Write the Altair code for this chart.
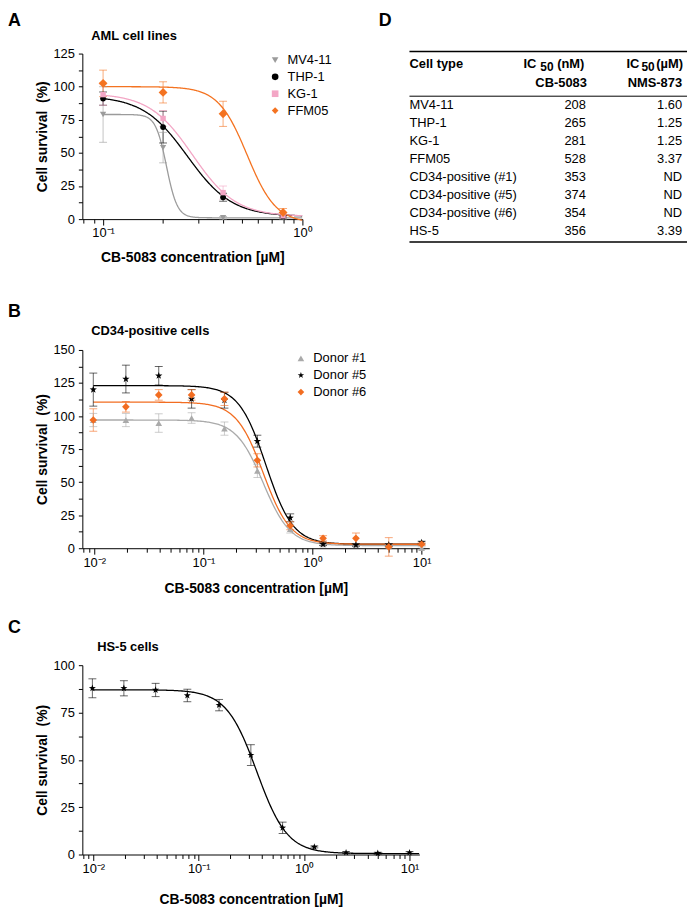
import altair as alt
import numpy as np
import pandas as pd

FONT = "Liberation Sans"
STAR = ("M0,-1L0.235,-0.324L0.951,-0.309L0.38,0.124L0.588,0.809L0,0.4"
        "L-0.588,0.809L-0.38,0.124L-0.951,-0.309L-0.235,-0.324Z")

# ---------------- Panel A : AML cell lines ----------------
a_conc = [0.1, 0.2, 0.4, 0.8]
a_names = ["MV4-11", "THP-1", "KG-1", "FFM05"]
a_mv411 = [79, 54, 1, 1]
a_thp1 = [91, 69.5, 16.5, 2]
a_kg1 = [94, 76, 20, 2.5]
a_ffm05 = [102.5, 95.7, 79.5, 5]
a_mv411_sd = [21, 11.5, 1, 1]
a_thp1_sd = [5, 12, 3, 1]
a_kg1_sd = [8, 6, 5, 1]
a_ffm05_sd = [10, 8, 9.5, 3]
# 4-parameter logistic fit: top, bottom, IC50 (uM), Hill slope
a_top = [79, 93, 95, 100]
a_bottom = [1, 2, 2, -3]
a_ic50 = [0.208, 0.265, 0.281, 0.528]
a_hill = [16, 3.9, 4, 6]
a_colors = ["#9b9b9b", "#000000", "#f3a6c5", "#f47321"]
a_shapes = ["triangle-down", "circle", "square", "diamond"]
a_sizes = [40, 34, 30, 80]

# ---------------- Panel B : CD34-positive cells ----------------
b_conc = [0.0098, 0.0195, 0.039, 0.078, 0.156, 0.3125, 0.625, 1.25, 2.5, 5, 10]
b_names = ["Donor #1", "Donor #5", "Donor #6"]
b_d1 = [97, 97, 94.7, 98.5, 90.5, 58.5, 14.5, 3, 2.5, 2, 0]
b_d5 = [120, 128, 130.5, 113, 112, 81, 23, 3, 2.5, 2.5, 4.3]
b_d6 = [97, 107, 116, 116, 113, 66.5, 17, 7.5, 7.5, 1, 3]
b_d1_sd = [5, 5, 7, 4, 5, 5, 3, 1, 1, 1, 1]
b_d5_sd = [12.5, 10.5, 7, 7, 6, 4.5, 3, 1, 1, 1, 1]
b_d6_sd = [8.5, 4, 4, 4, 5, 5, 3, 2, 4, 7, 1]
b_top = [97, 123, 110.5]
b_bottom = [2, 3, 3]
b_ic50 = [0.353, 0.374, 0.354]
b_hill = [3.5, 3.5, 3.5]
b_colors = ["#aaaaaa", "#000000", "#f26d21"]
b_shapes = ["triangle-up", STAR, "diamond"]
b_sizes = [45, 60, 60]

# ---------------- Panel C : HS-5 cells ----------------
c_conc = [0.0098, 0.0195, 0.039, 0.078, 0.156, 0.3125, 0.625, 1.25, 2.5, 5, 10]
c_names = ["HS-5"]
c_hs5 = [87.8, 87.8, 86.9, 84, 78.9, 52.5, 14.1, 4, 1, 0.7, 1]
c_hs5_sd = [5, 4, 3.5, 3.3, 3, 5.5, 3, 0.5, 0.5, 0.5, 0.5]
c_top = [87]
c_bottom = [0.5]
c_ic50 = [0.356]
c_hill = [3]
c_colors = ["#000000"]
c_shapes = [STAR]
c_sizes = [55]

# ---------------- Panel D : table ----------------
d_cell = ["MV4-11", "THP-1", "KG-1", "FFM05", "CD34-positive (#1)",
          "CD34-positive (#5)", "CD34-positive (#6)", "HS-5"]
d_cb5083 = ["208", "265", "281", "528", "353", "374", "354", "356"]
d_nms873 = ["1.60", "1.25", "1.25", "3.37", "ND", "ND", "ND", "3.39"]

XTITLE = "CB-5083 concentration [\u00b5M]"
YTITLE = "Cell survival\u00a0 (%)"

MAJOR = "abs(log(datum.value)/LN10 - round(log(datum.value)/LN10)) < 0.001"
SUP = {-2: "10\u207b\u00b2", -1: "10\u207b\u00b9", 0: "10\u2070", 1: "10\u00b9"}


def sup_expr():
    e = "''"
    for k, v in SUP.items():
        e = f"(round(log(datum.value)/LN10) == {k} ? '{v}' : {e})"
    return f"({MAJOR}) ? {e} : ''"


def log_ticks(e0, e1, lo, hi):
    vals = []
    for e in range(e0, e1 + 1):
        for m in range(1, 10):
            v = round(m * 10 ** e, 6)
            if lo <= v <= hi:
                vals.append(v)
    return vals


def text_layer(txt, x, y, size=13, weight="normal", align="left", baseline="alphabetic"):
    return alt.Chart(pd.DataFrame({"t": [txt]})).mark_text(
        align=align, baseline=baseline, fontSize=size, fontWeight=weight,
        font=FONT, color="black").encode(x=alt.value(x), y=alt.value(y), text="t:N")


def panel(conc, names, means, sds, tops, bottoms, ic50s, hills, colors, shapes, sizes,
          xdom, ydom, width, plot_h, view_h, curve_rng, legend_xy, title, title_dx, title_y,
          letter, letter_y, xtitle_y, show_legend=True):
    rows = []
    for n, m, s, sz in zip(names, means, sds, sizes):
        for c, v, e in zip(conc, m, s):
            rows.append({"series": n, "conc": c, "mean": v, "lo": v - e, "hi": v + e, "sz": sz})
    pts = pd.DataFrame(rows)

    grid = np.logspace(np.log10(curve_rng[0]), np.log10(curve_rng[1]), 300)
    crows = []
    for n, top, bot, ic, h in zip(names, tops, bottoms, ic50s, hills):
        for x in grid:
            crows.append({"series": n, "conc": x, "fit": bot + (top - bot) / (1 + (x / ic) ** h)})
    cur = pd.DataFrame(crows)

    xscale = alt.Scale(type="log", domain=xdom, nice=False)
    yscale = alt.Scale(domain=ydom, nice=False, zero=False, range=[plot_h, 0])
    e0 = int(np.floor(np.log10(xdom[0])))
    e1 = int(np.floor(np.log10(xdom[1])))
    xaxis = alt.Axis(values=log_ticks(e0, e1, xdom[0], xdom[1]), labelExpr=sup_expr(),
                     tickSize={"condition": {"test": MAJOR, "value": 6}, "value": 4},
                     labelOverlap=False, labelFlush=False, labelPadding=2,
                     offset=plot_h - view_h,
                     title=XTITLE, titleY=xtitle_y, titleBaseline="alphabetic")
    yvals = list(np.arange(ydom[0], ydom[1] + 0.01, 12.5))
    yaxis = alt.Axis(values=yvals, labelExpr="datum.value % 25 == 0 ? datum.label : ''",
                     tickSize=4, labelPadding=4, title=YTITLE, titleX=-36,
                     titleY=plot_h / 2, titleBaseline="alphabetic", titleAlign="center")

    X = lambda f: alt.X(f, type="quantitative", scale=xscale, axis=xaxis)
    Y = lambda f: alt.Y(f, type="quantitative", scale=yscale, axis=yaxis)
    dom = alt.Scale(domain=names, range=colors)
    # same mapping, listed in reverse so the (legend-less) line/bar scales stay separate
    dom_r = alt.Scale(domain=names[::-1], range=colors[::-1])

    curves = alt.Chart(cur).mark_line(strokeWidth=1.3, clip=True).encode(
        x=X("conc"), y=Y("fit"),
        stroke=alt.Stroke("series:N", scale=dom_r, legend=None), detail="series:N")
    bars = alt.Chart(pts).mark_rule(strokeWidth=1, opacity=0.6).encode(
        x=X("conc"), y=Y("lo"), y2="hi",
        stroke=alt.Stroke("series:N", scale=dom_r, legend=None))
    cap_lo = alt.Chart(pts).mark_tick(orient="horizontal", size=8, thickness=1, opacity=0.6).encode(
        x=X("conc"), y=Y("lo"), fill=alt.Fill("series:N", scale=dom_r, legend=None))
    cap_hi = alt.Chart(pts).mark_tick(orient="horizontal", size=8, thickness=1, opacity=0.6).encode(
        x=X("conc"), y=Y("hi"), fill=alt.Fill("series:N", scale=dom_r, legend=None))
    if show_legend:
        leg = alt.Legend(orient="none", legendX=legend_xy[0], legendY=legend_xy[1], title=None,
                         labelFontSize=13, labelFont=FONT, symbolSize=45, rowPadding=3,
                         labelOffset=6, labelColor="black")
    else:
        leg = None
    points = alt.Chart(pts).mark_point(filled=True, opacity=1).encode(
        x=X("conc"), y=Y("mean"),
        color=alt.Color("series:N", scale=dom, legend=leg),
        shape=alt.Shape("series:N", scale=alt.Scale(domain=names, range=shapes), legend=leg),
        size=alt.Size("sz:Q", scale=None))
    layers = [curves, bars, cap_lo, cap_hi, points,
              text_layer(title, title_dx, title_y, size=13, weight="bold"),
              text_layer(letter, -75, letter_y, size=18, weight="bold")]
    return alt.layer(*layers)


A_plot = panel(a_conc, a_names, [a_mv411, a_thp1, a_kg1, a_ffm05],
               [a_mv411_sd, a_thp1_sd, a_kg1_sd, a_ffm05_sd],
               a_top, a_bottom, a_ic50, a_hill, a_colors, a_shapes, a_sizes,
               [0.0787, 1.0], [0, 125], 222, 167, 181, [0.1, 1.0], (188, 0),
               "AML cell lines", 9, -14, "A", -28, 43)

B = panel(b_conc, b_names, [b_d1, b_d5, b_d6], [b_d1_sd, b_d5_sd, b_d6_sd],
          b_top, b_bottom, b_ic50, b_hill, b_colors, b_shapes, b_sizes,
          [0.00778, 11.75], [0, 150], 350, 200, 200, [0.0098, 10], (214, 2),
          "CD34-positive cells", 9, -15, "B", -33, 45).properties(width=350, height=200)

C = panel(c_conc, c_names, [c_hs5], [c_hs5_sd],
          c_top, c_bottom, c_ic50, c_hill, c_colors, c_shapes, c_sizes,
          [0.00787, 12.4], [0, 100], 340, 191, 191, [0.0098, 12.4], (0, 0),
          "HS-5 cells", 15, -14, "C", -32, 49, show_legend=False).properties(width=340, height=191)

# ---- table (panel D), drawn beside panel A ----
TX = 330  # left edge of the table relative to panel A's plot area
tab = pd.DataFrame({"row": list(range(len(d_cell))), "cell": d_cell,
                    "cb": d_cb5083, "nms": d_nms873})
rowy = alt.Y("row:Q", scale=alt.Scale(domain=[0, 7], range=[51.7, 179]), axis=None)


def col(field, x, align):
    return alt.Chart(tab).mark_text(align=align, baseline="middle", fontSize=13,
                                    font=FONT, color="black").encode(
        x=alt.value(TX + x), y=rowy, text=f"{field}:N")


def hrule(y, w):
    return alt.Chart(pd.DataFrame({"r": [0]})).mark_rule(color="black", strokeWidth=w).encode(
        x=alt.value(TX), x2=alt.value(TX + 280), y=alt.value(y))


D = alt.layer(
    hrule(-2, 1.5), hrule(43, 1), hrule(190, 1.5),
    text_layer("Cell type", TX + 0, 15, weight="bold"),
    text_layer("IC", TX + 115, 15, weight="bold"),
    text_layer("50", TX + 132, 18, size=12, weight="bold"),
    text_layer("(nM)", TX + 149, 15, weight="bold"),
    text_layer("CB-5083", TX + 179, 34, weight="bold", align="right"),
    text_layer("IC", TX + 219, 15, weight="bold"),
    text_layer("50", TX + 234, 18, size=12, weight="bold"),
    text_layer("(\u00b5M)", TX + 249, 15, weight="bold"),
    text_layer("NMS-873", TX + 275, 34, weight="bold", align="right"),
    col("cell", 0, "left"), col("cb", 178, "right"), col("nms", 275, "right"),
    text_layer("D", TX - 31, -28, size=18, weight="bold"),
)

A = alt.layer(A_plot, D).resolve_scale(y="independent").properties(width=222, height=181)

chart = alt.vconcat(A, B, C, spacing=118, bounds="flush").resolve_scale(
    fill="independent", shape="independent", stroke="independent", color="independent"
).resolve_legend(
    color="independent", shape="independent"
).properties(padding=0).configure(font=FONT).configure_view(stroke=None).configure_axis(
    grid=False, domainColor="black", tickColor="black", labelColor="black", titleColor="black",
    labelFont=FONT, titleFont=FONT, labelFontSize=13, titleFontSize=14, titleFontWeight="bold",
    domainWidth=1, tickWidth=1
)

chart.save("out.html", embed_options={"renderer": "svg", "actions": False})
